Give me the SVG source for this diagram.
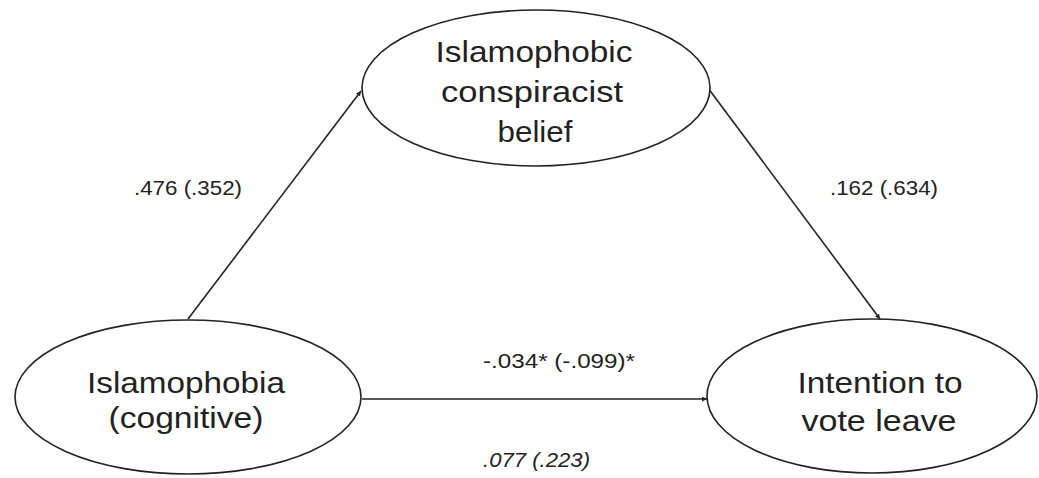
<svg xmlns="http://www.w3.org/2000/svg" width="1039" height="478" viewBox="0 0 1039 478">
<defs>
<style>
.node{fill:#fff;stroke:#222;stroke-width:1.6}
.nt{font-family:"Liberation Sans",Arial,sans-serif;font-size:30px;fill:#222;text-anchor:middle}
.lb{font-family:"Liberation Sans",Arial,sans-serif;font-size:19.5px;fill:#222}
.edge{stroke:#222;stroke-width:1.6;fill:none}
</style>
<marker id="arr" viewBox="0 0 10 10" refX="10" refY="5" markerWidth="5" markerHeight="5" orient="auto" markerUnits="userSpaceOnUse">
<path d="M0,0 L10,5 L0,10 z" fill="#222"/>
</marker>
</defs>
<rect width="1039" height="478" fill="#fff"/>
<g id="connectors">
<line class="edge" x1="188" y1="319" x2="361" y2="91" marker-end="url(#arr)"/>
<line class="edge" x1="708" y1="88" x2="880" y2="319" marker-end="url(#arr)"/>
<line class="edge" x1="362" y1="399" x2="707" y2="399" marker-end="url(#arr)"/>
</g>
<g id="node-belief">
<ellipse class="node" cx="536" cy="88" rx="174" ry="78"/>
<text class="nt" x="534" y="62" textLength="197" lengthAdjust="spacingAndGlyphs">Islamophobic</text>
<text class="nt" x="532" y="102" textLength="182" lengthAdjust="spacingAndGlyphs">conspiracist</text>
<text class="nt" x="535" y="142" textLength="75" lengthAdjust="spacingAndGlyphs">belief</text>
</g>
<g id="node-islamophobia">
<ellipse class="node" cx="188" cy="397" rx="173" ry="77"/>
<text class="nt" x="186" y="393" textLength="198" lengthAdjust="spacingAndGlyphs">Islamophobia</text>
<text class="nt" x="186" y="428" textLength="155" lengthAdjust="spacingAndGlyphs">(cognitive)</text>
</g>
<g id="node-vote">
<ellipse class="node" cx="872" cy="396" rx="165" ry="77"/>
<text class="nt" x="880" y="393" textLength="165" lengthAdjust="spacingAndGlyphs">Intention to</text>
<text class="nt" x="879" y="431" textLength="155" lengthAdjust="spacingAndGlyphs">vote leave</text>
</g>
<g id="labels">
<text class="lb" x="134" y="195" textLength="108" lengthAdjust="spacingAndGlyphs">.476 (.352)</text>
<text class="lb" x="830" y="195" textLength="108" lengthAdjust="spacingAndGlyphs">.162 (.634)</text>
<text class="lb" x="483" y="368" textLength="152" lengthAdjust="spacingAndGlyphs">-.034* (-.099)*</text>
<text class="lb" x="483" y="467" font-style="italic" textLength="107" lengthAdjust="spacingAndGlyphs">.077 (.223)</text>
</g>
</svg>
